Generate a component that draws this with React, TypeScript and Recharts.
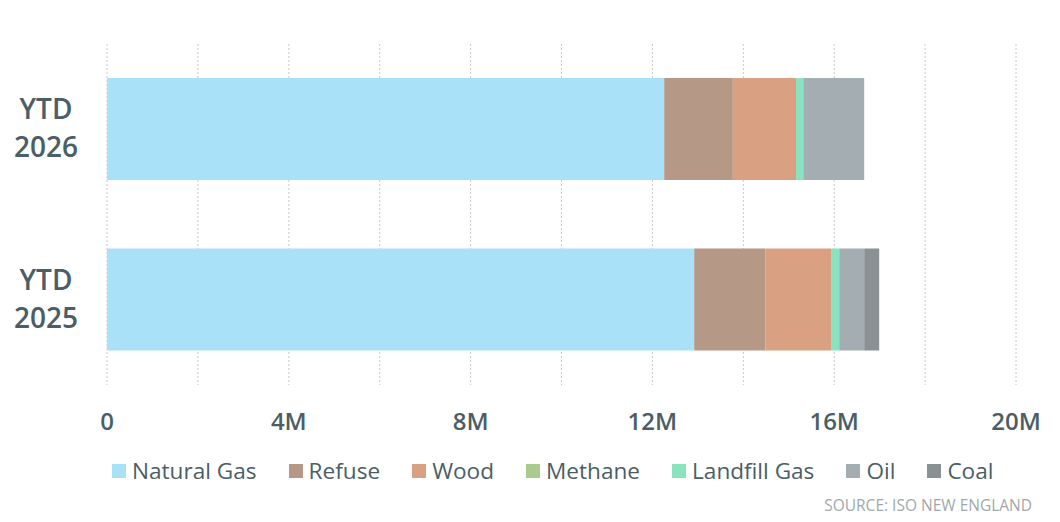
import React from "react";
import { BarChart, Bar, XAxis, YAxis, CartesianGrid } from "recharts";

const categories = ["YTD 2026", "YTD 2025"];
const naturalGas = [12260000, 12920000];
const refuse = [1510000, 1570000];
const wood = [1390000, 1440000];
const methane = [0, 0];
const landfillGas = [160000, 180000];
const oil = [1340000, 550000];
const coal = [0, 330000];
const xTicks = [0, 2e6, 4e6, 6e6, 8e6, 10e6, 12e6, 14e6, 16e6, 18e6, 20e6];

const series = [
  { key: "naturalGas", name: "Natural Gas", color: "#A9E2F8", values: naturalGas },
  { key: "refuse", name: "Refuse", color: "#B59886", values: refuse },
  { key: "wood", name: "Wood", color: "#DAA082", values: wood },
  { key: "methane", name: "Methane", color: "#A9CB8D", values: methane },
  { key: "landfillGas", name: "Landfill Gas", color: "#8AE3BF", values: landfillGas },
  { key: "oil", name: "Oil", color: "#A3ADB2", values: oil },
  { key: "coal", name: "Coal", color: "#8A9194", values: coal },
];

const chartData = categories.map((name, i) => {
  const row: any = { name };
  series.forEach((s) => (row[s.key] = s.values[i]));
  return row;
});

const TEXT = "#4B5E66";
const FONT = "'Open Sans', sans-serif";

const YTick = (props: any) => {
  const { y, payload } = props;
  const [a, b] = String(payload.value).split(" ");
  return (
    <text x={46} y={y} textAnchor="middle" fill={TEXT} fontSize={28} fontWeight={600} fontFamily={FONT}>
      <tspan x={46} dy={-10}>{a}</tspan>
      <tspan x={46} dy={38}>{b}</tspan>
    </text>
  );
};

const XTick = (props: any) => {
  const { x, y, payload } = props;
  const v = payload.value;
  if (v % 4e6 !== 0) return <g />;
  const label = v === 0 ? "0" : `${v / 1e6}M`;
  return (
    <text x={x} y={y + 45} textAnchor="middle" fill={TEXT} fontSize={24} fontWeight={600} fontFamily={FONT}>
      {label}
    </text>
  );
};

const App: React.FC = () => {
  return (
    <div style={{ position: "relative", width: 1060, height: 522, fontFamily: FONT, background: "#fff" }}>
      <style>{"body{margin:0}"}</style>
      <BarChart
        width={1060}
        height={522}
        data={chartData}
        layout="vertical"
        margin={{ top: 44, right: 44, left: 0, bottom: 97 }}
        barCategoryGap="20%"
      >
        <CartesianGrid horizontal={false} strokeDasharray="2 2" stroke="#C8C8C8" />
        <XAxis
          type="number"
          domain={[0, 20e6]}
          ticks={xTicks}
          interval={0}
          height={40}
          axisLine={false}
          tickLine={false}
          tickSize={0}
          tickMargin={0}
          tick={<XTick />}
        />
        <YAxis
          type="category"
          dataKey="name"
          width={107}
          axisLine={false}
          tickLine={false}
          tick={<YTick />}
        />
        {series.map((s) => (
          <Bar key={s.key} dataKey={s.key} name={s.name} stackId="a" fill={s.color} isAnimationActive={false} />
        ))}
      </BarChart>
      <div
        style={{
          position: "absolute",
          left: 112,
          top: 455,
          display: "flex",
          gap: 32,
          alignItems: "center",
          fontSize: 22.6,
          color: TEXT,
          whiteSpace: "nowrap",
        }}
      >
        {series.map((s) => (
          <div key={s.key} style={{ display: "flex", alignItems: "center", gap: 6 }}>
            <span style={{ display: "inline-block", width: 14, height: 14, background: s.color }} />
            <span>{s.name}</span>
          </div>
        ))}
      </div>
      <div
        style={{
          position: "absolute",
          right: 28,
          top: 494,
          fontSize: 15.5,
          color: "#A0A8AB",
        }}
      >
        SOURCE: ISO NEW ENGLAND
      </div>
    </div>
  );
};

export default App;
